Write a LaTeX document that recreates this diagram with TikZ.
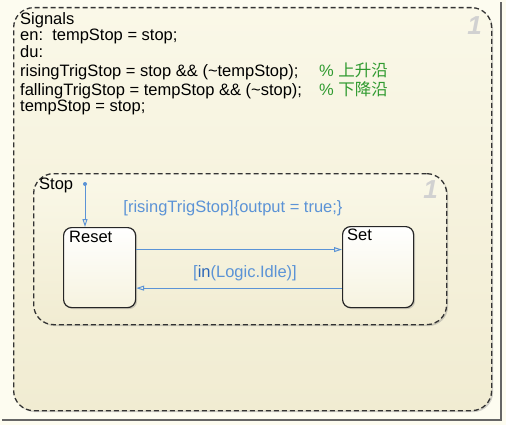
\documentclass[tikz,border=0pt]{standalone}
\usepackage{fontspec}
\setmainfont{Liberation Sans}
\newfontfamily\cjk{Noto Sans CJK SC}
\usetikzlibrary{arrows.meta,shadows}

\definecolor{pagebg}{HTML}{FDFCF0}
\definecolor{chartup}{HTML}{FAF8E8}
\definecolor{chartlow}{HTML}{F1ECD2}
\definecolor{transblue}{HTML}{5B93D6}
\definecolor{kwblue}{HTML}{2A66B8}
\definecolor{cmtgreen}{HTML}{2F9A2F}

\tikzset{
  chart/.style={draw=black!80, dash pattern=on 5pt off 3pt, line width=1.3pt,
    rounded corners=20pt, top color=chartup, bottom color=chartlow,
    drop shadow={shadow xshift=1.5pt, shadow yshift=-1.5pt, opacity=0.35}},
  statebox/.style={draw=black!85, line width=1.2pt, rounded corners=8pt,
    top color=white, bottom color=chartup!60!chartlow,
    drop shadow={shadow xshift=1.5pt, shadow yshift=-1.5pt, opacity=0.35}},
  statename/.style={anchor=north west, inner sep=0pt, font=\fontsize{16.5}{16.6}\selectfont},
  trans/.style={draw=transblue, line width=1pt, -{Triangle[open, length=8pt, width=5pt]}},
  trlabel/.style={text=transblue, inner sep=0pt, font=\fontsize{16.5}{16.6}\selectfont},
  chartno/.style={text=black!18, font=\fontsize{26}{26}\selectfont\bfseries\itshape, inner sep=0pt}
}

\begin{document}
\begin{tikzpicture}[x=1pt, y=-1pt]
  \useasboundingbox (0,0) rectangle (506,425);
  \fill[pagebg] (0,0) rectangle (506,425);
  \draw[line width=2pt, black!60] (2,420) -- (501,420) -- (501,2);

  % outer chart
  \node[chart, anchor=north west, minimum width=478pt, minimum height=403pt] (signals) at (13,7) {};
  \node[chartno, anchor=north east] (signum) at (482,16) {1};
  \node[anchor=north west, inner sep=0pt, font=\fontsize{16.5}{16.6}\selectfont] (sigtext) at (20,12) {%
    \begin{tabular}{@{}l@{\hspace{17pt}}l@{}}
      Signals\\
      en:\ \ tempStop = stop;\\
      du:\\
      risingTrigStop = stop \&\& (\textasciitilde tempStop); & \textcolor{cmtgreen}{\% {\cjk 上升沿}}\\
      fallingTrigStop = tempStop \&\& (\textasciitilde stop); & \textcolor{cmtgreen}{\% {\cjk 下降沿}}\\
      tempStop = stop;
    \end{tabular}};

  % inner state
  \node[chart, anchor=north west, minimum width=413pt, minimum height=151pt] (stop) at (33,173) {};
  \node[statename] (stopname) at (39,178) {Stop};
  \node[chartno, anchor=north east] (stopnum) at (438,180) {1};

  \node[statebox, anchor=north west, minimum width=72pt, minimum height=80pt] (reset) at (63,227) {};
  \node[statename] (resetname) at (69,231) {Reset};
  \node[statebox, anchor=north west, minimum width=71pt, minimum height=81pt] (set) at (342,226) {};
  \node[statename] (setname) at (347,229) {Set};

  % transitions
  \coordinate (dflt) at (85,184);
  \fill[transblue] (dflt) circle (2pt);
  \draw[trans] (dflt) -- (dflt |- reset.north);
  \draw[trans] ([yshift=18pt]reset.east) -- ([yshift=18pt]reset.east -| set.west);
  \draw[trans] ([yshift=-21pt]set.west) -- ([yshift=-21pt]set.west -| reset.east);
  \node[trlabel] (rise) at (233,208) {[risingTrigStop]\{output = true;\}};
  \node[trlabel] (idle) at (245,273) {[\textcolor{kwblue}{in}(Logic.Idle)]};
\end{tikzpicture}
\end{document}
